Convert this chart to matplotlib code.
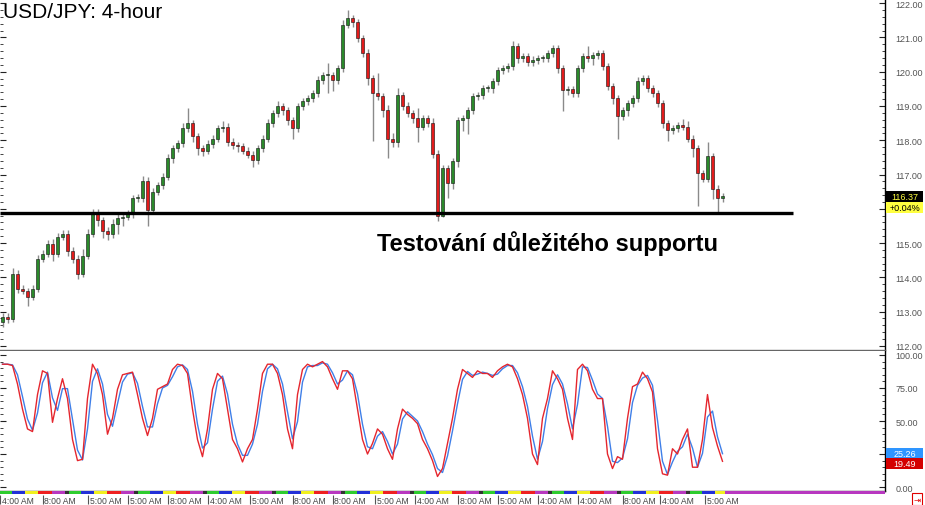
#!/usr/bin/env python3

import numpy as np
import pandas as pd
import matplotlib
matplotlib.use('Agg')
import matplotlib.pyplot as plt
import matplotlib.transforms as mtransforms
from matplotlib import rc
from matplotlib.patches import Rectangle
from matplotlib.ticker import MultipleLocator, FuncFormatter

TITLE = 'USD/JPY: 4-hour'
NOTE = 'Testování důležitého supportu'

# 4h candles; open of a bar = previous close
first_open = 112.70
closes = [
  112.85, 112.79, 114.11, 113.67, 113.61, 113.43, 113.67, 114.54, 114.69, 114.98,
  114.69, 115.19, 115.27, 114.78, 114.54, 114.11, 114.63, 115.27, 115.89, 115.66,
  115.36, 115.25, 115.57, 115.74, 115.77, 115.86, 116.30, 116.30, 116.82, 115.95,
  116.50, 116.68, 116.94, 117.47, 117.76, 117.91, 118.35, 118.49, 118.11, 117.76,
  117.70, 117.88, 118.05, 118.35, 118.40, 117.96, 117.85, 117.82, 117.70, 117.58,
  117.41, 117.76, 118.05, 118.49, 118.78, 118.99, 118.87, 118.58, 118.35, 118.99,
  119.13, 119.22, 119.37, 119.75, 119.89, 119.89, 119.75, 120.10, 121.36, 121.56,
  121.44, 120.98, 120.54, 119.81, 119.37, 119.28, 118.87, 118.05, 117.96, 119.31,
  118.99, 118.78, 118.64, 118.40, 118.64, 118.49, 117.61, 115.80, 117.18, 116.74,
  117.38, 118.58, 118.64, 118.87, 119.28, 119.31, 119.51, 119.51, 119.72, 120.04,
  120.10, 120.16, 120.74, 120.39, 120.45, 120.27, 120.33, 120.39, 120.39, 120.54,
  120.68, 120.10, 119.46, 119.49, 119.37, 120.10, 120.45, 120.39, 120.48, 120.54,
  120.16, 119.57, 119.22, 118.70, 118.87, 119.08, 119.22, 119.72, 119.81, 119.51,
  119.37, 119.08, 118.49, 118.29, 118.35, 118.43, 118.40, 118.05, 117.76, 117.03,
  116.88, 117.53, 116.59, 116.30, 116.37,
]
# wick lengths above / below the body
wick_up = [
  0.10, 0.12, 0.15, 0.10, 0.10, 0.08, 0.10, 0.12, 0.10, 0.10,
  0.15, 0.10, 0.12, 0.10, 0.10, 0.10, 0.20, 0.15, 0.10, 0.10,
  0.10, 0.10, 0.12, 0.10, 0.15, 0.10, 0.10, 0.12, 0.15, 0.10,
  0.10, 0.10, 0.10, 0.12, 0.10, 0.10, 0.15, 0.45, 0.10, 0.10,
  0.10, 0.12, 0.10, 0.10, 0.15, 0.10, 0.10, 0.10, 0.10, 0.10,
  0.10, 0.10, 0.10, 0.12, 0.10, 0.15, 0.10, 0.10, 0.10, 0.10,
  0.10, 0.10, 0.10, 0.12, 0.10, 0.35, 0.10, 0.10, 0.15, 0.25,
  0.10, 0.10, 0.10, 0.12, 0.10, 0.60, 0.10, 0.15, 0.15, 0.20,
  0.10, 0.12, 0.10, 0.30, 0.10, 0.10, 0.15, 0.10, 0.10, 0.10,
  0.10, 0.10, 0.10, 0.10, 0.10, 0.10, 0.10, 0.10, 0.10, 0.10,
  0.10, 0.10, 0.15, 0.10, 0.10, 0.10, 0.12, 0.10, 0.10, 0.10,
  0.10, 0.10, 0.10, 0.10, 0.10, 0.10, 0.10, 0.30, 0.10, 0.10,
  0.10, 0.10, 0.10, 0.10, 0.10, 0.10, 0.10, 0.12, 0.10, 0.10,
  0.10, 0.10, 0.10, 0.10, 0.10, 0.10, 0.20, 0.15, 0.10, 0.10,
  0.10, 0.43, 0.10, 0.10, 0.08,
]
wick_dn = [
  0.15, 0.12, 0.10, 0.12, 0.10, 0.26, 0.10, 0.10, 0.08, 0.10,
  0.20, 0.10, 0.10, 0.15, 0.12, 0.15, 0.10, 0.10, 0.10, 0.15,
  0.20, 0.15, 0.10, 0.30, 0.25, 0.10, 0.12, 0.10, 0.10, 0.45,
  0.10, 0.10, 0.10, 0.10, 0.12, 0.10, 0.10, 0.10, 0.15, 0.20,
  0.15, 0.10, 0.10, 0.10, 0.10, 0.12, 0.10, 0.15, 0.10, 0.10,
  0.20, 0.10, 0.10, 0.10, 0.10, 0.10, 0.12, 0.15, 0.30, 0.10,
  0.10, 0.10, 0.10, 0.10, 0.10, 0.50, 0.30, 0.10, 0.10, 0.10,
  0.15, 0.10, 0.10, 0.20, 1.40, 0.10, 0.20, 0.58, 0.15, 0.15,
  0.10, 0.10, 0.15, 0.45, 0.10, 0.10, 0.12, 0.17, 0.05, 0.44,
  0.15, 0.15, 0.30, 0.45, 0.10, 0.10, 0.10, 0.10, 0.12, 0.10,
  0.10, 0.10, 0.10, 0.15, 0.10, 0.10, 0.10, 0.10, 0.10, 0.10,
  0.10, 0.15, 0.60, 0.15, 0.10, 0.10, 0.10, 0.10, 0.20, 0.10,
  0.10, 0.10, 0.15, 0.65, 0.10, 0.15, 0.10, 0.10, 0.10, 0.10,
  0.10, 0.10, 0.12, 0.30, 0.10, 0.10, 0.10, 0.10, 0.25, 0.95,
  0.10, 0.10, 0.30, 0.38, 0.10,
]
support_level = 115.88
change_label = '+0.04%'

# stochastic %K (red); %D (blue) is its short average
stoch_k = [
  93, 93, 92, 78, 59, 44, 42, 70, 88, 86,
  49, 67, 82, 67, 36, 20, 21, 67, 93, 86,
  70, 40, 52, 74, 85, 86, 87, 70, 52, 39,
  52, 74, 76, 78, 89, 93, 92, 86, 59, 36,
  23, 44, 74, 86, 82, 59, 36, 29, 19, 29,
  36, 59, 86, 93, 93, 86, 70, 44, 29, 70,
  89, 93, 91, 93, 95, 91, 82, 74, 88, 88,
  82, 59, 36, 25, 33, 44, 40, 29, 21, 44,
  59, 55, 52, 48, 36, 29, 20, 8, 14, 33,
  52, 74, 89, 86, 83, 88, 86, 86, 83, 88,
  91, 93, 91, 82, 70, 52, 25, 17, 52, 67,
  88, 82, 74, 52, 36, 89, 93, 88, 74, 67,
  67, 25, 14, 23, 21, 52, 76, 78, 87, 82,
  72, 29, 10, 9, 29, 25, 36, 44, 15, 15,
  36, 70, 45, 31.03, 19.49,
]

time_labels = ['4:00 AM', '8:00 AM', '5:00 AM', '5:00 AM', '8:00 AM', '4:00 AM',
               '5:00 AM', '8:00 AM', '8:00 AM', '5:00 AM', '4:00 AM', '8:00 AM',
               '5:00 AM', '4:00 AM', '4:00 AM', '8:00 AM', '4:00 AM', '5:00 AM']
time_tick_idx = [-0.5, 8, 17, 25, 33, 41, 49.5, 58, 66, 74.5, 82.5, 91,
                 99, 107, 115, 124, 131.5, 140.5]

W, H = 925, 506
XLIM = (-0.5, 176.5)
GREEN, RED = '#2b8a2b', '#e31b1b'
K_COLOR, D_COLOR = '#e5262e', '#3f7fe8'
SESSION_COLORS = ['#2ecc2e', '#2230d8', '#f0f020', '#ee2020', '#b838c0', '#333333']
SESSION_WIDTHS = [12, 13, 13, 14, 13, 4]

tag_boxes = []   # (axes, y_low_px, y_high_px) covered by value tags


def set_rcs():
  rc('font', **{'family': 'sans-serif', 'sans-serif': ['Liberation Sans', 'DejaVu Sans'], 'size': 6.5})
  rc('axes', linewidth=1.0)


def px_axes(fig, x0, y0, x1, y1):
  # pixel box, origin top-left like the screenshot
  return fig.add_axes([x0 / W, 1 - y1 / H, (x1 - x0) / W, (y1 - y0) / H])


def scale_formatter(ax):
  # price labels, blank where a value tag sits on top
  def fmt(v, pos):
    yv = ax.transData.transform((0, v))[1]
    for a, y0, y1 in tag_boxes:
      if a is ax and y0 - 3 <= yv <= y1 + 3:
        return ''
    return '%.2f' % v
  return FuncFormatter(fmt)


def style_scale(ax, major, minor):
  ax.set_xlim(*XLIM)
  ax.yaxis.set_major_locator(MultipleLocator(major))
  ax.yaxis.set_minor_locator(MultipleLocator(minor))
  ax.yaxis.set_major_formatter(scale_formatter(ax))
  ax.yaxis.set_ticks_position('both')
  ax.tick_params(axis='y', which='both', direction='in', labelleft=False, labelright=True,
                 colors='#222', labelcolor='#555', pad=7.5, labelsize=6.5)
  ax.tick_params(axis='y', which='major', length=4.3, width=0.8)
  ax.tick_params(axis='y', which='minor', length=2.2, width=0.6)
  ax.tick_params(axis='x', which='both', bottom=False, top=False, labelbottom=False)
  ax.spines['top'].set_visible(False)
  ax.spines['left'].set_visible(False)
  ax.spines['right'].set_color('black')


def tag(fig, ax, y, text, fc, tc, shift=0):
  # value box on the right scale, shift in pixels (downwards)
  xr = ax.transAxes.transform((1, 0))[0]
  yc = ax.transData.transform((0, y))[1] - shift
  fig.add_artist(Rectangle((xr + 1, yc - 5.5), 37, 11, transform=mtransforms.IdentityTransform(),
                           fc=fc, ec='none', zorder=5))
  fig.text((xr + 19.5) / W, yc / H, text, ha='center', va='center', color=tc,
           fontsize=6.5, zorder=6)
  tag_boxes.append((ax, yc - 5.5, yc + 5.5))


if __name__ == '__main__':
  set_rcs()
  fig = plt.figure(figsize=(W / 100, H / 100), dpi=100)
  ax = px_axes(fig, 0, 0, 885, 351)
  ax_st = px_axes(fig, 0, 352, 885, 492)

  # candles
  c = np.array(closes)
  o = np.concatenate([[first_open], c[:-1]])
  hi = np.maximum(o, c) + np.array(wick_up)
  lo = np.minimum(o, c) - np.array(wick_dn)
  x = np.arange(len(c))
  rising = c >= o

  ax.vlines(x, lo, hi, color='#8a8a8a', lw=1.0, zorder=2)
  ax.bar(x, np.maximum(np.abs(c - o), 0.03), bottom=np.minimum(o, c), width=0.62,
         color=np.where(rising, GREEN, RED), edgecolor='#111', linewidth=0.4, zorder=3)
  ax.hlines(support_level, XLIM[0], 158, color='black', lw=2.4, zorder=4)
  style_scale(ax, 1, 0.2)
  ax.set_ylim(111.88, 122.12)
  ax.spines['bottom'].set_color('#666')

  # stochastic
  k = pd.Series(stoch_k, dtype=float)
  d = k.rolling(2, min_periods=1).mean()
  ax_st.plot(x, d, color=D_COLOR, lw=1.0, zorder=2)
  ax_st.plot(x, k, color=K_COLOR, lw=1.0, zorder=3)
  style_scale(ax_st, 25, 5)
  ax_st.set_ylim(-3, 103)
  ax_st.spines['bottom'].set_color('#222')

  # value tags on the scales
  tag(fig, ax, c[-1], f'{c[-1]:.2f}', 'black', '#ffff40')
  tag(fig, ax, c[-1], change_label, '#ffff40', 'black', shift=11)
  yd = ax_st.transData.transform((0, d.iloc[-1]))[1]
  yk = ax_st.transData.transform((0, k.iloc[-1]))[1]
  tag(fig, ax_st, d.iloc[-1], f'{d.iloc[-1]:.2f}', '#2e95ff', 'white')
  tag(fig, ax_st, k.iloc[-1], f'{k.iloc[-1]:.2f}', '#d40000', 'white', shift=max(0, yk - yd + 10))

  # session colour strip
  ax_sess = px_axes(fig, 0, 492, 885, 495)
  ax_sess.set_axis_off()
  ax_sess.set_xlim(*XLIM)
  ax_sess.set_ylim(0, 1)
  segs, cols, pos, i = [], [], XLIM[0], 0
  end = x[-1] + 0.5
  while pos < end:
    w = SESSION_WIDTHS[i % 6] / 5
    segs.append((pos, min(w, end - pos)))
    cols.append(SESSION_COLORS[i % 6])
    pos += w
    i += 1
  segs.append((end, XLIM[1] - end))
  cols.append('#b838c0')
  ax_sess.broken_barh(segs, (0, 1), facecolors=cols)

  # time labels
  ax_t = px_axes(fig, 0, 495, 885, 506)
  ax_t.set_axis_off()
  ax_t.set_xlim(*XLIM)
  ax_t.set_ylim(0, 1)
  for p, lab in zip(time_tick_idx, time_labels):
    ax_t.vlines(p, 0.05, 0.9, color='#555', lw=0.8)
    ax_t.text(p + 0.4, 0.45, lab, va='center', ha='left', fontsize=6.2, color='#444')

  fig.text(917 / W, 1 - 500 / H, '\u21e5', color='#e00000', fontsize=6, ha='center', va='center',
           family='DejaVu Sans',
           bbox=dict(boxstyle='square,pad=0.15', fc='white', ec='#e00000', lw=0.8))

  fig.text(3 / W, 1 - 18 / H, TITLE, fontsize=15, va='baseline', color='black')
  fig.text(377 / W, 1 - 251 / H, NOTE, fontsize=17, fontweight='bold', va='baseline')

  fig.savefig('out.png', dpi=100, facecolor='white')
  plt.close()
